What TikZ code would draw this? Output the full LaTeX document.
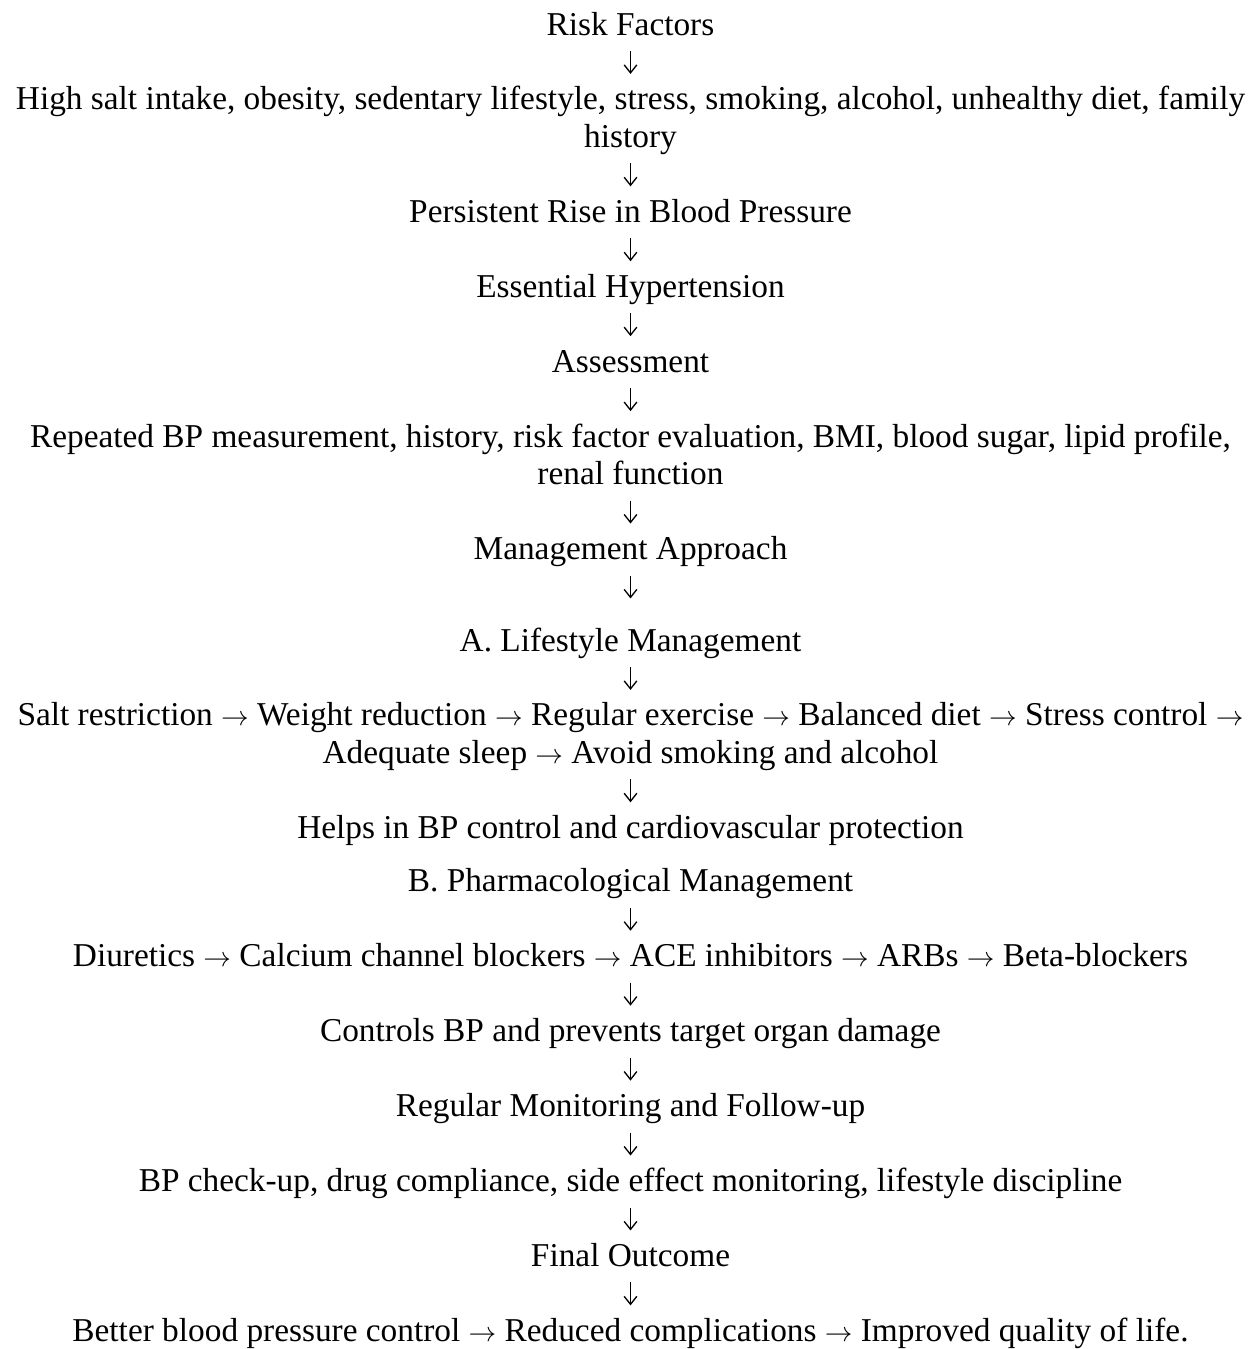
\documentclass[tikz,border=0pt]{standalone}
\usepackage{fontspec}
\setmainfont{Liberation Serif}
\newcommand{\ra}{{\fontsize{20}{20}\selectfont$\rightarrow$}}
\usetikzlibrary{positioning,arrows.meta}

\begin{document}
\begin{tikzpicture}[x=0.75pt, y=-0.75pt, node distance=36.2pt,
  txtline/.style={inner sep=0pt, outer sep=0pt, anchor=base, text height=16pt, text depth=4pt, font=\fontsize{25}{30}\selectfont},
  flow/.style={-{Straight Barb[length=6pt,width=9.5pt]}, line width=1pt, shorten <=8pt, shorten >=11pt}]

\useasboundingbox (0,0) rectangle (1251,1349);

% Causes and diagnosis
\node[txtline] (risk) at (630.5,35) {Risk Factors};
\node[txtline, below=of risk] (causes) {High salt intake, obesity, sedentary lifestyle, stress, smoking, alcohol, unhealthy diet, family};
\node[txtline, below=8.1pt of causes] (causes2) {history};
\node[txtline, below=of causes2] (rise) {Persistent Rise in Blood Pressure};
\node[txtline, below=of rise] (essential) {Essential Hypertension};
\node[txtline, below=of essential] (assess) {Assessment};
\node[txtline, below=of assess] (tests) {Repeated BP measurement, history, risk factor evaluation, BMI, blood sugar, lipid profile,};
\node[txtline, below=8.1pt of tests] (tests2) {renal function};
\node[txtline, below=of tests2] (approach) {Management Approach};

% Lifestyle branch
\node[txtline, below=48.6pt of approach] (lifestyle) {A. Lifestyle Management};
\node[txtline, below=of lifestyle] (measures) {Salt restriction \ra{} Weight reduction \ra{} Regular exercise \ra{} Balanced diet \ra{} Stress control \ra};
\node[txtline, below=8.1pt of measures] (measures2) {Adequate sleep \ra{} Avoid smoking and alcohol};
\node[txtline, below=of measures2] (lifebenefit) {Helps in BP control and cardiovascular protection};

% Drug branch
\node[txtline, below=20.1pt of lifebenefit] (pharma) {B. Pharmacological Management};
\node[txtline, below=of pharma] (drugs) {Diuretics \ra{} Calcium channel blockers \ra{} ACE inhibitors \ra{} ARBs \ra{} Beta-blockers};
\node[txtline, below=of drugs] (drugbenefit) {Controls BP and prevents target organ damage};

% Follow-up and outcome
\node[txtline, below=of drugbenefit] (monitor) {Regular Monitoring and Follow-up};
\node[txtline, below=of monitor] (followup) {BP check-up, drug compliance, side effect monitoring, lifestyle discipline};
\node[txtline, below=of followup] (outcome) {Final Outcome};
\node[txtline, below=of outcome] (result) {Better blood pressure control \ra{} Reduced complications \ra{} Improved quality of life.};

% Arrows
\draw[flow] (risk.south) -- (causes.north);
\draw[flow] (causes2.south) -- (rise.north);
\draw[flow] (rise.south) -- (essential.north);
\draw[flow] (essential.south) -- (assess.north);
\draw[flow] (assess.south) -- (tests.north);
\draw[flow] (tests2.south) -- (approach.north);
\draw[flow, shorten >=23.4pt] (approach.south) -- (lifestyle.north);
\draw[flow] (lifestyle.south) -- (measures.north);
\draw[flow] (measures2.south) -- (lifebenefit.north);
\draw[flow] (pharma.south) -- (drugs.north);
\draw[flow] (drugs.south) -- (drugbenefit.north);
\draw[flow] (drugbenefit.south) -- (monitor.north);
\draw[flow] (monitor.south) -- (followup.north);
\draw[flow] (followup.south) -- (outcome.north);
\draw[flow] (outcome.south) -- (result.north);

\end{tikzpicture}
\end{document}
